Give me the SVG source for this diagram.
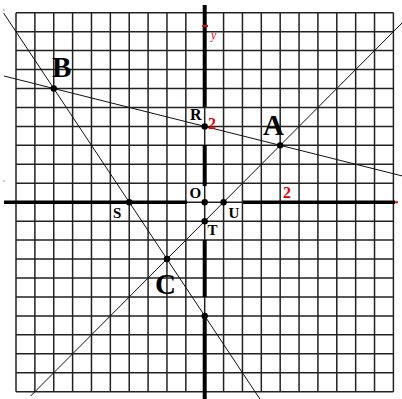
<svg xmlns="http://www.w3.org/2000/svg" width="402" height="399" viewBox="0 0 402 399">
<style>
.grid{stroke:#222;stroke-width:1.5;fill:none}
.axis{stroke:#000;fill:none}
.ln{stroke:#111;stroke-width:1;fill:none}
.lbl{font-family:"Liberation Serif",serif;font-weight:bold;fill:#000}
.red{font-family:"Liberation Serif",serif;font-weight:bold;fill:#e00}
.dot{fill:#000}
</style>
<rect width="402" height="399" fill="#fff"/>
<g id="grid">
<path class="grid" d="M16 12.7V391.7M34.87 12.7V391.7M53.74 12.7V391.7M72.61 12.7V391.7M91.48 12.7V391.7M110.35 12.7V391.7M129.22 12.7V391.7M148.09 12.7V391.7M166.96 12.7V391.7M185.83 12.7V391.7M204.7 12.7V391.7M223.57 12.7V391.7M242.44 12.7V391.7M261.31 12.7V391.7M280.18 12.7V391.7M299.05 12.7V391.7M317.92 12.7V391.7M336.79 12.7V391.7M355.66 12.7V391.7M374.53 12.7V391.7M393.4 12.7V391.7"/>
<path class="grid" d="M16 12.7H393.4M16 31.65H393.4M16 50.6H393.4M16 69.55H393.4M16 88.5H393.4M16 107.45H393.4M16 126.4H393.4M16 145.35H393.4M16 164.3H393.4M16 183.25H393.4M16 202.2H393.4M16 221.15H393.4M16 240.1H393.4M16 259.05H393.4M16 278H393.4M16 296.95H393.4M16 315.9H393.4M16 334.85H393.4M16 353.8H393.4M16 372.75H393.4M16 391.7H393.4"/>
</g>
<g id="axes">
<path class="axis" stroke-width="3.5" d="M4 202.2H187M243 202.2H395"/>
<path class="axis" stroke-width="4" d="M204.7 5V107M204.7 145V186M204.7 240V297M204.7 316V399"/>
<path stroke="#e00" stroke-width="2" d="M395 202.2H398M202 26H208"/>
</g>
<g id="connectors">
<line class="ln" x1="4" y1="76" x2="402" y2="175.9"/>
<line class="ln" x1="30.6" y1="396" x2="402" y2="23"/>
<line class="ln" x1="3.6" y1="13" x2="259.9" y2="399"/>
</g>
<g id="node-A"><circle class="dot" cx="280.18" cy="145.35" r="3.2"/><text class="lbl" x="263" y="135" font-size="29">A</text></g>
<g id="node-B"><circle class="dot" cx="53.74" cy="88.5" r="3.2"/><text class="lbl" x="52" y="77" font-size="29">B</text></g>
<g id="node-C"><circle class="dot" cx="166.96" cy="259.05" r="3.2"/><text class="lbl" x="155" y="294" font-size="29">C</text></g>
<g id="node-R"><circle class="dot" cx="204.7" cy="126.4" r="3.2"/><text class="lbl" x="190" y="120" font-size="16">R</text><text class="red" x="208" y="129" font-size="16">2</text></g>
<g id="node-O"><circle class="dot" cx="204.7" cy="202.2" r="3.2"/><text class="lbl" x="189.5" y="198" font-size="15">O</text></g>
<g id="node-S"><circle class="dot" cx="129.22" cy="202.2" r="3.2"/><text class="lbl" x="113" y="218" font-size="15">S</text></g>
<g id="node-U"><circle class="dot" cx="223.57" cy="202.2" r="3.2"/><text class="lbl" x="228.5" y="218" font-size="15">U</text></g>
<g id="node-T"><circle class="dot" cx="204.7" cy="221.15" r="3.2"/><text class="lbl" x="207.5" y="235" font-size="15">T</text></g>
<g id="node-P"><circle class="dot" cx="204.7" cy="315.9" r="3.2"/></g>
<g id="labels">
<text class="red" x="283" y="198" font-size="16">2</text>
<text x="211" y="39" font-size="12" font-style="italic" fill="#e00" font-family="Liberation Serif,serif">y</text>
<circle cx="4" cy="10" r="0.8" fill="#888"/>
<circle cx="4" cy="181" r="0.8" fill="#888"/>
</g>
</svg>
